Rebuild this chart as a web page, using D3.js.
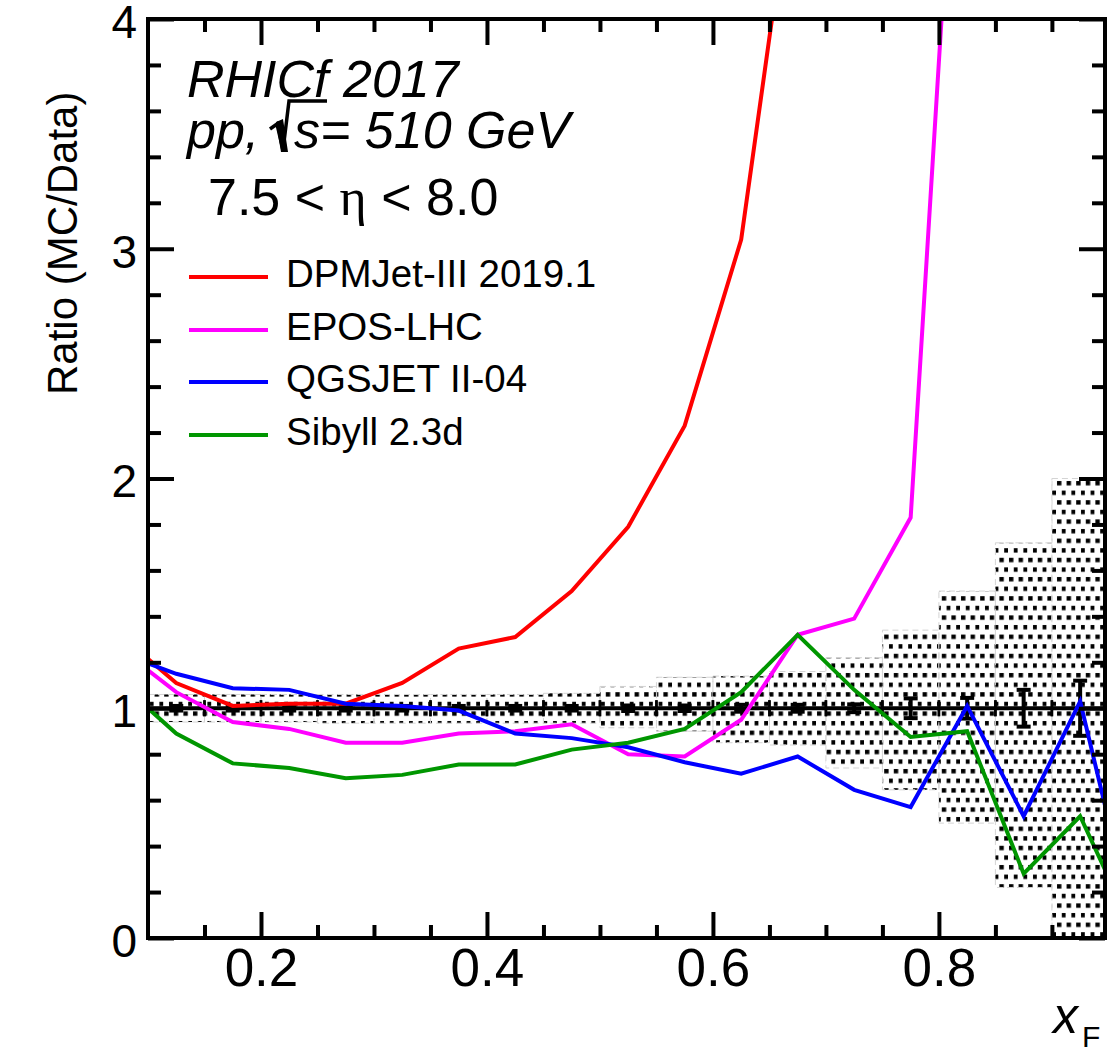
<!DOCTYPE html>
<html><head><meta charset="utf-8">
<script src="https://cdn.jsdelivr.net/npm/d3@7"></script>
<style>body{margin:0;background:#fff}</style>
</head><body><svg id="c" width="1107" height="1054"></svg>
<script>
// ---- data ----
const xF = [0.075,0.125,0.175,0.225,0.275,0.325,0.375,0.425,0.475,0.525,0.575,0.625,0.675,0.725,0.775,0.825,0.875,0.925,0.975];
const dpmjet = [1.32,1.11,1.01,1.02,1.02,1.11,1.26,1.31,1.51,1.79,2.23,3.04,4.8,null,null,null,null,null,null];
const epos   = [1.26,1.07,0.94,0.91,0.85,0.85,0.89,0.90,0.93,0.80,0.79,0.95,1.32,1.39,1.83,5.8,null,null,null];
const qgsjet = [1.24,1.15,1.087,1.08,1.02,1.01,0.99,0.89,0.87,0.83,0.765,0.715,0.79,0.645,0.57,1.01,0.53,1.03,0.0];
const sibyll = [1.11,0.89,0.76,0.74,0.695,0.71,0.755,0.755,0.82,0.85,0.91,1.07,1.32,1.08,0.875,0.90,0.28,0.53,0.0];
const modelNames = ["DPMJet-III 2019.1","EPOS-LHC","QGSJET II-04","Sibyll 2.3d"];

const binEdges = [0.10,0.15,0.20,0.25,0.30,0.35,0.40,0.45,0.50,0.55,0.60,0.65,0.70,0.75,0.80,0.85,0.90,0.95];
const dataX    = [0.125,0.175,0.225,0.275,0.325,0.375,0.425,0.475,0.525,0.575,0.625,0.675,0.725,0.775,0.825,0.875,0.925];
const dataY    = [1,1,1,1,1,1,1,1,1,1,1,1,1,1,1,1,1];
const dataStat = [0.01,0.01,0.01,0.01,0.01,0.01,0.01,0.01,0.012,0.012,0.015,0.015,0.017,0.043,0.045,0.08,0.12,0.24];
const sysLow   = [0.94,0.94,0.94,0.935,0.935,0.935,0.935,0.935,0.915,0.90,0.85,0.84,0.74,0.645,0.50,0.22,0.0];
const sysHigh  = [1.06,1.06,1.06,1.06,1.06,1.06,1.06,1.065,1.095,1.135,1.14,1.16,1.22,1.34,1.51,1.72,2.0];

const xMajor = [0.2,0.4,0.6,0.8];
const xMinor = [0.15,0.25,0.3,0.35,0.45,0.5,0.55,0.65,0.7,0.75,0.85,0.9];
const yMajor = [0,1,2,3,4];
const yMinor = [0.2,0.4,0.6,0.8,1.2,1.4,1.6,1.8,2.2,2.4,2.6,2.8,3.2,3.4,3.6,3.8];

// ---- layout ----
const W=1107,H=1054;
const L=148, R=1105, T=19, B=938;
const x = d3.scaleLinear().domain([0.1,0.947]).range([L,R]);
const y = d3.scaleLinear().domain([0,4]).range([B,T]);
const FONT = "'Liberation Sans', Arial, Helvetica, sans-serif";

const svg = d3.select('#c');
svg.append('rect').attr('width',W).attr('height',H).attr('fill','#fff');
const defs = svg.append('defs');
defs.append('clipPath').attr('id','clip').append('rect')
  .attr('x',L).attr('y',T).attr('width',R-L).attr('height',B-T);
const pat = defs.append('pattern').attr('id','dots').attr('patternUnits','userSpaceOnUse')
  .attr('width',9.6).attr('height',19.2);
pat.append('rect').attr('x',1).attr('y',1).attr('width',4.4).attr('height',4.4).attr('fill','#000');
pat.append('rect').attr('x',5.8).attr('y',10.6).attr('width',4.4).attr('height',4.4).attr('fill','#000');

const plot = svg.append('g').attr('clip-path','url(#clip)');

// systematic band
plot.selectAll('rect.band').data(sysLow).join('rect').attr('class','band')
  .attr('x',(d,i)=>x(binEdges[i]))
  .attr('width',(d,i)=>x(binEdges[i+1])-x(binEdges[i]))
  .attr('y',(d,i)=>y(sysHigh[i]))
  .attr('height',(d,i)=>y(sysLow[i])-y(sysHigh[i]))
  .attr('fill','url(#dots)')
  .attr('stroke','#d4d4d4').attr('stroke-width',1).attr('stroke-dasharray','6,4');

// data points with error bars
const dg = plot.append('g').attr('stroke','#000');
dataX.forEach((c,i)=>{
  const yc = y(dataY[i]);
  const x0 = x(binEdges[i]), x1 = x(binEdges[i+1]);
  dg.append('line').attr('x1',x0).attr('x2',x1).attr('y1',yc).attr('y2',yc).attr('stroke-width',4);
  [x0,x1].forEach(xe=>dg.append('line').attr('x1',xe).attr('x2',xe).attr('y1',yc-8).attr('y2',yc+8).attr('stroke-width',2.5));
  const yt = y(dataY[i]+dataStat[i]), yb = y(dataY[i]-dataStat[i]);
  dg.append('line').attr('x1',x(c)).attr('x2',x(c)).attr('y1',yt).attr('y2',yb).attr('stroke-width',4);
  [yt,yb].forEach(ye=>dg.append('line').attr('x1',x(c)-7).attr('x2',x(c)+7).attr('y1',ye).attr('y2',ye).attr('stroke-width',4));
});

// model lines
const colors = ['#ff0000','#ff00ff','#0000ff','#009600'];
const series = [dpmjet,epos,qgsjet,sibyll];
const line = d3.line().defined(d=>d[1]!=null).x(d=>x(d[0])).y(d=>y(d[1]));
series.forEach((s,k)=>{
  plot.append('path').datum(xF.map((v,i)=>[v,s[i]]))
    .attr('d',line).attr('fill','none').attr('stroke',colors[k])
    .attr('stroke-width',4).attr('stroke-linejoin','miter');
});

// axes
function styleAxis(g){
  g.select('.domain').remove();
  g.selectAll('.tick line').attr('stroke','#000').attr('stroke-width',4);
  g.selectAll('text').attr('font-family',FONT).attr('fill','#000');
}
svg.append('g').attr('transform',`translate(0,${B})`)
  .call(d3.axisBottom(x).tickValues(xMajor).tickSizeInner(-26).tickSizeOuter(0).tickPadding(10).tickFormat(d3.format('.1f')))
  .call(styleAxis).selectAll('text').attr('font-size',53);
svg.append('g').attr('transform',`translate(0,${B})`)
  .call(d3.axisBottom(x).tickValues(xMinor).tickSizeInner(-13).tickSizeOuter(0).tickFormat(''))
  .call(styleAxis);
svg.append('g').attr('transform',`translate(0,${T})`)
  .call(d3.axisTop(x).tickValues(xMajor).tickSizeInner(-26).tickSizeOuter(0).tickFormat(''))
  .call(styleAxis);
svg.append('g').attr('transform',`translate(0,${T})`)
  .call(d3.axisTop(x).tickValues(xMinor).tickSizeInner(-13).tickSizeOuter(0).tickFormat(''))
  .call(styleAxis);
svg.append('g').attr('transform',`translate(${L},0)`)
  .call(d3.axisLeft(y).tickValues(yMajor).tickSizeInner(-26).tickSizeOuter(0).tickPadding(11).tickFormat(d3.format('d')))
  .call(styleAxis).selectAll('text').attr('font-size',46).attr('dy','0.4em');
svg.append('g').attr('transform',`translate(${L},0)`)
  .call(d3.axisLeft(y).tickValues(yMinor).tickSizeInner(-13).tickSizeOuter(0).tickFormat(''))
  .call(styleAxis);
svg.append('g').attr('transform',`translate(${R},0)`)
  .call(d3.axisRight(y).tickValues(yMajor).tickSizeInner(-26).tickSizeOuter(0).tickFormat(''))
  .call(styleAxis);
svg.append('g').attr('transform',`translate(${R},0)`)
  .call(d3.axisRight(y).tickValues(yMinor).tickSizeInner(-13).tickSizeOuter(0).tickFormat(''))
  .call(styleAxis);

// frame
svg.append('rect').attr('x',L).attr('y',T).attr('width',R-L).attr('height',B-T)
  .attr('fill','none').attr('stroke','#000').attr('stroke-width',4);

// axis titles
svg.append('text').attr('transform','translate(77,395) rotate(-90)')
  .attr('font-family',FONT).attr('font-size',42).attr('fill','#000').text('Ratio (MC/Data)');
const xl = svg.append('text').attr('x',1053).attr('y',1033).attr('font-family',FONT).attr('fill','#000');
xl.append('tspan').attr('font-size',50).attr('font-style','italic').text('x');
xl.append('tspan').attr('font-size',30).attr('dx',4).attr('dy',14).text('F');

// annotations
svg.append('text').attr('x',187).attr('y',97).attr('font-family',FONT).attr('font-size',52)
  .attr('font-style','italic').attr('fill','#000').text('RHICf 2017');
svg.append('text').attr('x',187).attr('y',148).attr('font-family',FONT).attr('font-size',52)
  .attr('font-style','italic').attr('fill','#000').text('pp,');
// radical sign
svg.append('path').attr('d','M270,129 L277,124 L283,150 L289,101 L327,101')
  .attr('fill','none').attr('stroke','#000').attr('stroke-width',3.5).attr('stroke-linejoin','miter');
svg.append('path').attr('d','M276,122 L283,119 L288,152 L281,152 Z').attr('fill','#000');
svg.append('text').attr('x',294).attr('y',148).attr('font-family',FONT).attr('font-size',52)
  .attr('font-style','italic').attr('fill','#000').text('s= 510 GeV');

const eta = svg.append('text').attr('x',208).attr('y',215).attr('font-family',FONT).attr('font-size',52).attr('fill','#000');
eta.append('tspan').text('7.5 < ');
eta.append('tspan').attr('font-family',"'Liberation Serif', 'DejaVu Serif', serif").text('η');
eta.append('tspan').text(' < 8.0');

// legend
const legY = [277,330,382,435];
modelNames.forEach((n,k)=>{
  svg.append('line').attr('x1',189).attr('x2',268).attr('y1',legY[k]).attr('y2',legY[k])
    .attr('stroke',colors[k]).attr('stroke-width',4);
  svg.append('text').attr('x',286).attr('y',legY[k]+10).attr('font-family',FONT)
    .attr('font-size',38.5).attr('fill','#000').text(n);
});
</script></body></html>
